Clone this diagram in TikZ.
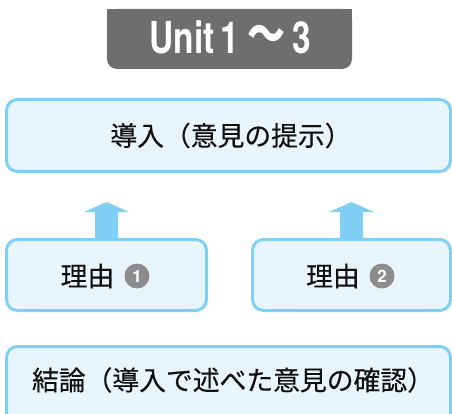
\documentclass[tikz,border=0pt]{standalone}
\usepackage{fontspec}
\usepackage{graphicx}
\newfontfamily\cjk[FakeBold=0.4]{Noto Sans CJK JP}
\newfontfamily\cjkwave{Noto Sans CJK JP}
\newfontfamily\heros{TeX Gyre Heros}
\usetikzlibrary{calc}
\definecolor{boxline}{HTML}{80CFF4}
\definecolor{boxfill}{HTML}{E8F5FD}
\definecolor{bannergray}{HTML}{6E6E6E}
\definecolor{numgray}{HTML}{8C8C8C}
\definecolor{textc}{HTML}{111111}
\begin{document}
\begin{tikzpicture}[x=1pt,y=-1pt,
  box/.style={draw=boxline, fill=boxfill, line width=3pt, rounded corners=11pt, inner sep=0pt},
  jtext/.style={font=\cjk\fontsize{26.8}{30}\selectfont, text=textc, inner sep=0pt},
  numc/.style={inner sep=0pt, text=white, font=\heros\bfseries\fontsize{17}{17}\selectfont},
  uparrow/.style={fill=boxline},
  banner/.style={fill=bannergray, rounded corners=10pt, inner sep=0pt}]
\useasboundingbox (0,0) rectangle (452,414);
% banner
\node[banner, minimum width=245pt, minimum height=60pt] (bannerbox) at (229.5,39) {};
\fill[bannergray] (bannerbox.north west) rectangle (bannerbox.east);
\node[anchor=base, inner sep=0pt, text=white] (unit) at (230.5,53.5)
  {\fontsize{44}{44}\heros\bfseries\scalebox{0.76}[1]{Unit\,1}\hspace{9pt}\raisebox{1pt}{\scalebox{0.95}[1.25]{\cjkwave\fontsize{40}{40}\selectfont ～}}\hspace{7pt}\scalebox{0.76}[1]{3}};
% boxes
\node[box, minimum width=444pt, minimum height=72pt] (intro) at (228.5,135.5) {};
\node[jtext] (introtext) at (231,135.5) {導入（意見の提示）};
\node[box, minimum width=200pt, minimum height=71pt] (r1) at (106.5,275) {};
\node[box, minimum width=198pt, minimum height=71pt] (r2) at (351.5,275) {};
\node[jtext] (r1text) at (87.5,276) {理由};
\fill[numgray] (137,276) circle[radius=12.5];
\node[numc] (n1) at (137,276) {1};
\node[jtext] (r2text) at (333,276) {理由};
\fill[numgray] (382,276) circle[radius=12.5];
\node[numc] (n2) at (382,276) {2};
\node[box, minimum width=444pt, minimum height=79pt] (concl) at (228.5,386) {};
\node[jtext] (concltext) at (233,380) {結論（導入で述べた意見の確認）};
% arrows
\foreach \r in {r1,r2}{
  \fill[uparrow] ($(\r.north)+(-11.5,1.5)$) -- ($(\r.north)+(-11.5,-26)$) -- ($(\r.north)+(-22.5,-26)$) -- ($(\r.north)+(0,-36)$) -- ($(\r.north)+(22.5,-26)$) -- ($(\r.north)+(11.5,-26)$) -- ($(\r.north)+(11.5,1.5)$) -- cycle;
}
\end{tikzpicture}
\end{document}
